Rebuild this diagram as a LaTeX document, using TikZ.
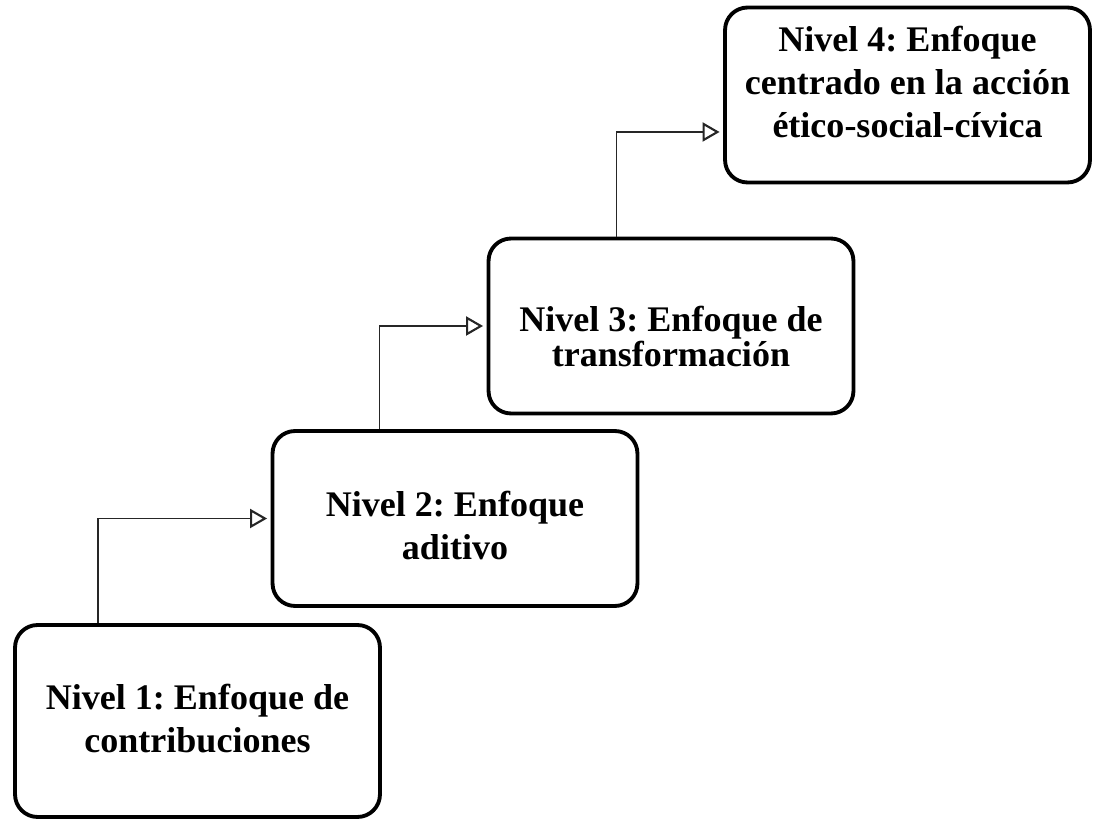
\documentclass[tikz,border=0pt]{standalone}
\usepackage{fontspec}
\setmainfont{Liberation Serif}
\usepackage{tikz}
\usetikzlibrary{positioning,calc,arrows.meta}
\frenchspacing

\begin{document}
\begin{tikzpicture}[x=0.02cm,y=-0.02cm,
		nivel/.style={rectangle,draw,rounded corners=0.45cm,line width=2.2pt,minimum width=7.3cm,minimum height=3.5cm,align=center,text depth=0.26cm,font=\bfseries\fontsize{20.5}{24.5}\selectfont},
		paso/.style={draw=black!85,line width=0.8pt,-{Triangle[open,length=0.34cm,width=0.38cm,line width=1.2pt]},shorten >=2pt}]
		
		\useasboundingbox (0,0) rectangle (1093,820);
		
		\node[nivel,minimum height=3.84cm,text height=1.54cm] (N1) at  (197.5,721){Nivel 1: Enfoque de\\contribuciones};
		\node[nivel,text height=1.92cm] (N2) at  (455,518.5){Nivel 2: Enfoque\\aditivo};
		\node[nivel,text height=1.9cm] (N3) at  (671,326){Nivel 3: Enfoque de\\[-0.16cm]transformación};
		\node[nivel,text height=2cm,text depth=0.28cm] (N4) at  (907.5,95){Nivel 4: Enfoque\\centrado en la acción\\ético-social-cívica};
		
		\draw [paso] ([xshift=1.7cm,yshift=0cm]N1.north west) |- ([xshift=0cm,yshift=0cm]N2.west);
		\draw [paso] ([xshift=2.18cm,yshift=0cm]N2.north west) |- ([xshift=0cm,yshift=0cm]N3.west);
		\draw [paso] ([xshift=2.6cm,yshift=0cm]N3.north west) |- ([xshift=0cm,yshift=-0.74cm]N4.west);
		
		\end{tikzpicture}
\end{document}
